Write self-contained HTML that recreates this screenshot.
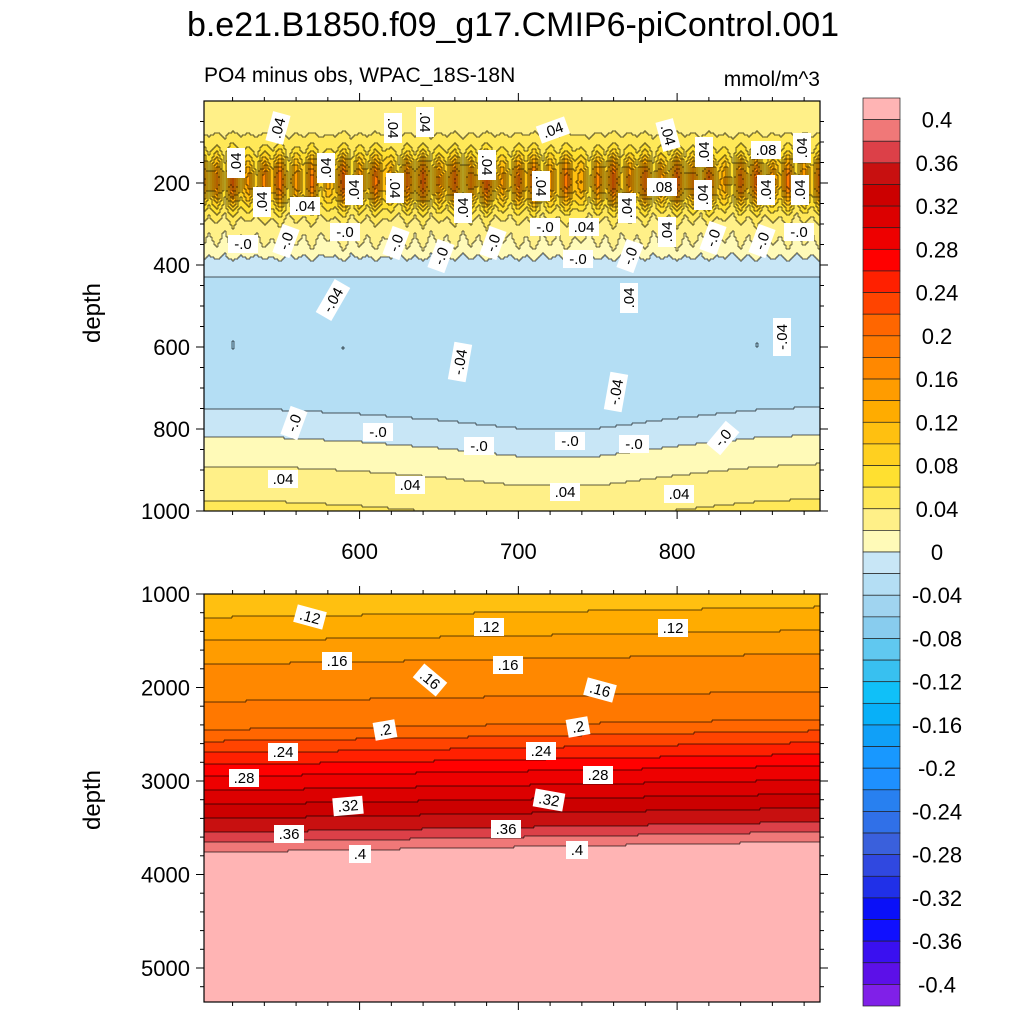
<!DOCTYPE html>
<html><head><meta charset="utf-8">
<style>
html,body{margin:0;padding:0;background:#fff;}
svg{display:block;font-family:"Liberation Sans",sans-serif;}
</style></head>
<body>
<svg id="chart" width="1024" height="1024" viewBox="0 0 1024 1024">
<rect width="1024" height="1024" fill="#fff"/>
<text x="513" y="36" font-size="34" text-anchor="middle">b.e21.B1850.f09_g17.CMIP6-piControl.001</text>
<text x="204" y="82" font-size="21">PO4 minus obs, WPAC_18S-18N</text>
<text x="820" y="86" font-size="21" text-anchor="end">mmol/m^3</text>
<text transform="translate(100,313) rotate(-90)" font-size="24" text-anchor="middle">depth</text>
<text transform="translate(100,800) rotate(-90)" font-size="24" text-anchor="middle">depth</text>
<g id="top"></g>
<g id="bot"></g>
<g id="cbar"></g>
</svg>
<script>
// ---- data ----
const levels = [-0.4,-0.38,-0.36,-0.34,-0.32,-0.3,-0.28,-0.26,-0.24,-0.22,-0.2,-0.18,-0.16,-0.14,-0.12,-0.1,-0.08,-0.06,-0.04,-0.02,0,0.02,0.04,0.06,0.08,0.1,0.12,0.14,0.16,0.18,0.2,0.22,0.24,0.26,0.28,0.3,0.32,0.34,0.36,0.38,0.4];
const colors = ["#8020E8","#5C10E8","#3A10F0","#1010FF","#0A10F8","#2030E8","#3048E0","#3A60DC","#3070E8","#2880F0","#1E90FF","#1898FF","#10A0F8","#08B0F8","#10C0F8","#38C0F0","#60C8F0","#88CCEE","#A0D4F0","#B4DEF4","#C8E6F6",
"#FFFAB8","#FFF088","#FFE858","#FFE030","#FFD020","#FFC010","#FFAC00","#FF9C00","#FF8800","#FF7800","#FF6600","#FF4400","#FF2000","#FF0000","#EE0000","#DC0000","#CC0000","#C81010","#DC4048","#F07878","#FFB4B4"];
const cbarLabels = ["0.4","0.36","0.32","0.28","0.24","0.2","0.16","0.12","0.08","0.04","0","-0.04","-0.08","-0.12","-0.16","-0.2","-0.24","-0.28","-0.32","-0.36","-0.4"];
const topDepths = [0,50,100,150,200,250,300,350,400,450,500,600,650,700,750,800,850,900,950,1000];
const topValues = [0.025,0.03,0.04,0.05,0.055,0.045,0.025,0.005,-0.012,-0.025,-0.033,-0.037,-0.036,-0.03,-0.021,-0.006,0.008,0.022,0.034,0.045];
const stripeX = [];
for (let i=0;i<80;i++) stripeX.push(500+i*5);
const stripeAmp = [0.15,0.03,0.12,0.01,0.16,0.04,0.10,0.02,0.13,0.05,0.16,0.01,0.11,0.03,0.15,0.02,0.08,0.04,0.17,0.01,0.12,0.03,0.15,0.05,0.09,0.01,0.14,0.03,0.16,0.02,0.11,0.04,0.15,0.01,0.12,0.03,0.17,0.03,0.10,0.02,
0.14,0.04,0.16,0.01,0.11,0.03,0.15,0.05,0.09,0.01,0.13,0.03,0.17,0.02,0.12,0.04,0.15,0.01,0.11,0.03,0.16,0.03,0.12,0.02,0.15,0.04,0.09,0.01,0.14,0.03,0.16,0.02,0.11,0.04,0.15,0.01,0.12,0.03,0.15,0.03];
const shiftX = [500,550,600,650,700,750,800,850,900];
const topShift = [0,0,10,25,45,45,20,0,-10];
const botTilt = [0,-10,-25,-40,-55,-70,-85,-100,-115];
const botDepths = [1000,1250,1500,1750,2000,2450,2700,2950,3250,3550,3760,3800,3850,5400];
const botValues = [0.10,0.12,0.14,0.16,0.17,0.20,0.24,0.28,0.32,0.36,0.40,0.41,0.45,0.45];
const xTicks = [600,700,800];
const topYTicks = [200,400,600,800,1000];
const botYTicks = [1000,2000,3000,4000,5000];
const topLabels = [[".04",278,128,-75],[".04",425,122,90],[".04",553,130,-20],[".04",668,135,75],[".04",704,152,-90],[".04",802,148,-90],[".08",766,150,0],[".04",236,163,-90],[".04",326,168,-90],[".04",393,128,90],[".04",487,165,90],[".04",354,190,-90],[".04",395,188,90],[".04",541,186,90],[".08",662,187,0],[".04",703,195,-90],[".04",766,190,-90],[".04",800,190,-90],[".04",262,202,-90],[".04",305,206,0],[".04",463,208,-90],[".04",627,208,-90],[".04",667,232,-90],[".04",584,227,0],["-.0",345,232,0],["-.0",545,227,0],["-.0",243,244,0],["-.0",286,241,-70],["-.0",396,243,-70],["-.0",493,243,-70],["-.0",713,238,-70],["-.0",762,241,-70],["-.0",799,232,0],["-.0",441,256,-70],["-.0",578,259,0],["-.0",630,256,-70],[".04",629,298,-90],["-.04",333,300,-60],["-.04",782,337,-90],["-.04",460,362,-80],["-.04",616,392,-80],["-.0",294,423,-70],["-.0",378,432,0],["-.0",479,446,0],["-.0",570,441,0],["-.0",634,444,0],["-.0",723,438,-50],[".04",283,479,0],[".04",410,485,0],[".04",565,492,0],[".04",679,494,0]];
const botLabels = [[".12",310,617,15],[".12",489,627,0],[".12",673,628,0],[".16",337,661,0],[".16",430,680,40],[".16",508,665,0],[".16",600,690,15],[".2",385,730,-10],[".2",578,727,-10],[".24",283,752,0],[".24",541,751,0],[".28",244,778,0],[".28",598,775,0],[".32",348,806,-5],[".32",549,800,10],[".36",289,834,0],[".36",506,829,0],[".4",360,854,0],[".4",577,850,0]];
// ---- scales ----
const X0=204,X1=820,XMIN=502,XMAX=890;
const xs = v => X0 + (v-XMIN)*(X1-X0)/(XMAX-XMIN);
const ixs = p => XMIN + (p-X0)*(XMAX-XMIN)/(X1-X0);
const ysTop = z => 101 + z*0.41;
const ysBot = z => 594 + (z-1000)*0.0935;
const NS="http://www.w3.org/2000/svg";
function mk(tag,attrs,parent){const e=document.createElementNS(NS,tag);for(const k in attrs)e.setAttribute(k,attrs[k]);parent.appendChild(e);return e;}
function interp(xa,ya,x){if(x<=xa[0])return ya[0];for(let i=1;i<xa.length;i++){if(x<=xa[i]){const t=(x-xa[i-1])/(xa[i]-xa[i-1]);return ya[i-1]+t*(ya[i]-ya[i-1]);}}return ya[ya.length-1];}
function levelIdx(v){let i=0;while(i<levels.length&&v>=levels[i])i++;return i;}
function topVal(x,z){const a=interp(stripeX,stripeAmp,x);const sh=interp(shiftX,topShift,x);const w=Math.max(0,Math.min(1,(z-450)/200));const zz=z-sh*w;
  return interp(topDepths,topValues,zz)+a*Math.exp(-Math.pow((z-195)/65,2))+0.15*a*Math.exp(-Math.pow((z-345)/45,2))-0.025*a*Math.exp(-Math.pow((z-560)/90,2));}
function botVal(x,z){const t=interp(shiftX,botTilt,x);return interp(botDepths,botValues,z-t);}
function drawPanel(g,name,py0,py1,zOf,valFn,ymap,yTicks,minorStep,zmin,zmax){
  const cw=2,rh=2;let path="";let prevCol=null;
  for(let px=X0;px<X1;px+=cw){
    const xv=ixs(px+cw/2);let runStart=py0,prev=null;const col=[];
    for(let py=py0;py<=py1;py+=rh){
      const idx=py<py1?levelIdx(valFn(xv,zOf(py+rh/2))):null;
      if(idx!==null){col.push(idx);if(prevCol&&prevCol[col.length-1]!==idx)path+=`M${px} ${py}v${rh}`;}
      if(idx!==prev){
        if(prev!==null){const r=mk('rect',{x:px,y:runStart,width:Math.min(cw+0.5,X1-px),height:Math.min(py,py1)-runStart+0.5,fill:colors[prev]},g);
          
          
          if(idx!==null) path+=`M${px} ${py}h${cw}`;}
        runStart=py;prev=idx;}
    }
    prevCol=col;
  }
  const p=mk('path',{d:path,stroke:'#000','stroke-width':0.7,fill:'none','stroke-opacity':0.85},g);
  
  
  const f=mk('rect',{x:X0,y:py0,width:X1-X0,height:py1-py0,fill:'none',stroke:'#000','stroke-width':1.2},g);
  
  
  for(let v=520;v<=880;v+=20){const x=xs(v);const major=xTicks.includes(v);const L=major?8:4;
    mk('line',{x1:x,x2:x,y1:py0,y2:py0-L,stroke:'#000','stroke-width':1},g);
    mk('line',{x1:x,x2:x,y1:py1,y2:py1+L,stroke:'#000','stroke-width':1},g);}
  for(let z=zmin;z<=zmax;z+=minorStep){if(z<=zmin&&name==='top')continue;const y=ymap(z);if(y<py0-0.5||y>py1+0.5)continue;const major=yTicks.includes(z);const L=major?8:4;
    mk('line',{x1:X0,x2:X0-L,y1:y,y2:y,stroke:'#000','stroke-width':1},g);
    mk('line',{x1:X1,x2:X1+L,y1:y,y2:y,stroke:'#000','stroke-width':1},g);}
  yTicks.forEach(z=>{const t=mk('text',{x:X0-14,y:ymap(z)+8,'font-size':22,'text-anchor':'end'},g);t.textContent=z;
    
    });
}
function drawLabels(g,arr){arr.forEach(l=>{const gg=mk('g',{transform:`translate(${l[1]},${l[2]}) rotate(${l[3]})`},g);
  
  
  const w=l[0].length*8+6;mk('rect',{x:-w/2,y:-9,width:w,height:18,fill:'#fff'},gg);
  const t=mk('text',{x:0,y:5,'font-size':15,'text-anchor':'middle'},gg);t.textContent=l[0];});}
const gt=document.getElementById('top'),gb=document.getElementById('bot');
drawPanel(gt,'top',101,511,py=>(py-101)/0.41,topVal,ysTop,topYTicks,50,0,1000);
drawPanel(gb,'bottom',594,1002,py=>1000+(py-594)/0.0935,botVal,ysBot,botYTicks,200,1000,5400);
drawLabels(gt,topLabels);drawLabels(gb,botLabels);
xTicks.forEach(v=>{const t=mk('text',{x:xs(v),y:559,'font-size':22,'text-anchor':'middle'},gt);t.textContent=v;
  
  });
const cb=document.getElementById('cbar');const CB0=98,CB1=1006,bh=(CB1-CB0)/colors.length;
colors.slice().reverse().forEach((c,i)=>{const r=mk('rect',{x:863,y:CB0+i*bh,width:37,height:bh,fill:c,stroke:'#222','stroke-width':0.7},cb);
  
  });
cbarLabels.forEach((s,i)=>{const t=mk('text',{x:937,y:CB0+bh*(1+2*i)+8,'font-size':22,'text-anchor':'middle'},cb);t.textContent=s;
  
  });
</script>
</body></html>
